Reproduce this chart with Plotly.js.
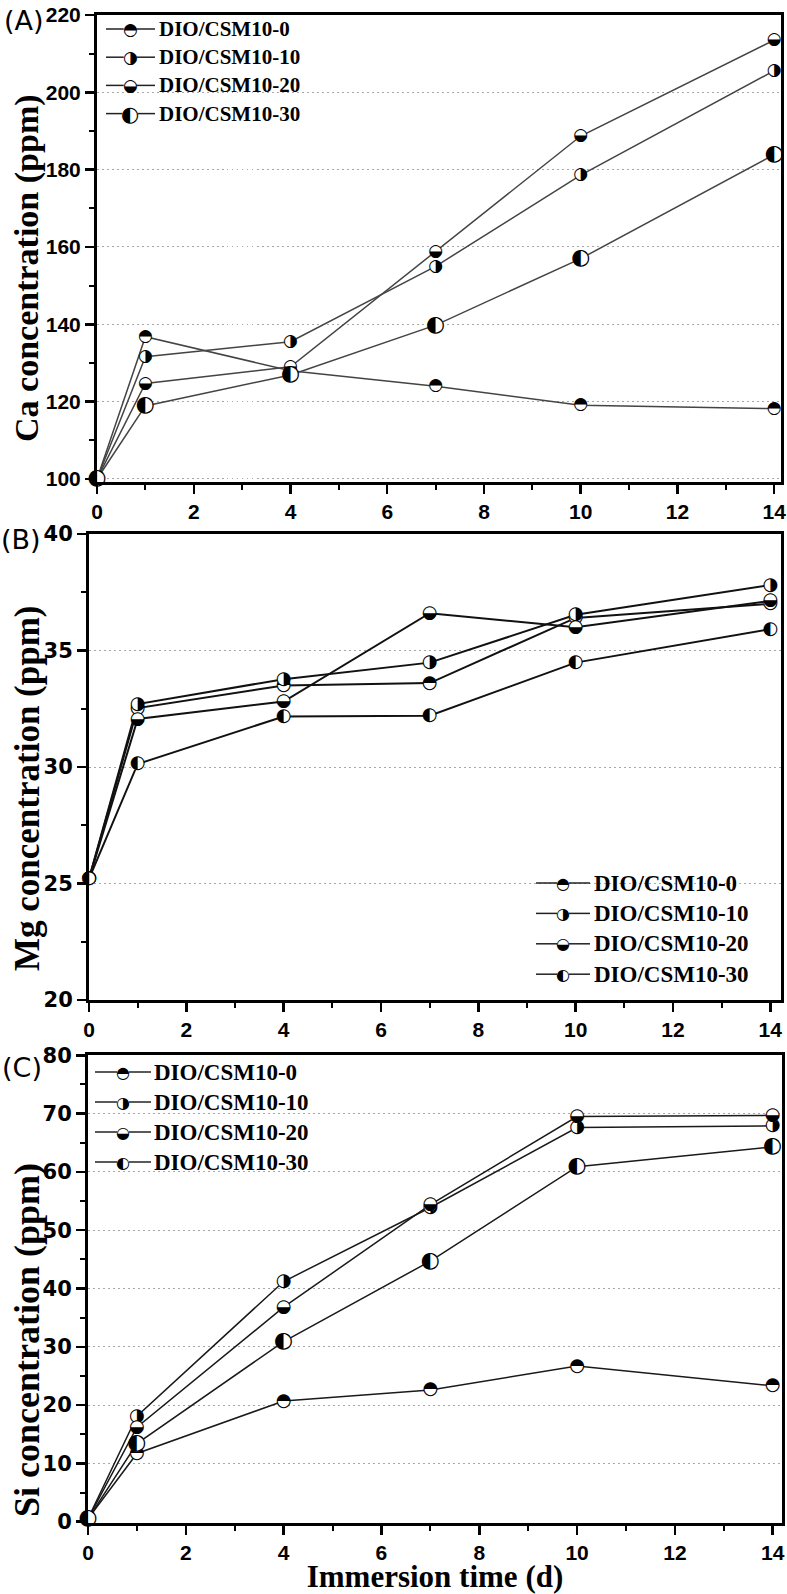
<!DOCTYPE html>
<html><head><meta charset="utf-8">
<script src="https://cdn.plot.ly/plotly-3.0.1.min.js"></script>
<style>html,body{margin:0;padding:0;background:#fff;} #chart{width:787px;height:1594px;}</style>
</head><body><div id="chart"></div>
<script>
// ---------- data ----------
const days = [0, 1, 4, 7, 10, 14];
const seriesNames = ['DIO/CSM10-0', 'DIO/CSM10-10', 'DIO/CSM10-20', 'DIO/CSM10-30'];
const seriesGlyphs = ['\u25D3', '\u25D1', '\u25D2', '\u25D0'];

const ca0  = [100, 136.8, 128.0, 124.0, 119.1, 118.2];
const ca10 = [100, 131.6, 135.5, 155.0, 178.6, 205.6];
const ca20 = [100, 124.7, 129.0, 158.9, 188.7, 213.5];
const ca30 = [100, 118.9, 126.9, 139.8, 157.0, 183.9];

const mg0  = [25.2, 32.53, 33.50, 33.60, 36.40, 37.00];
const mg10 = [25.2, 32.70, 33.77, 34.48, 36.53, 37.81];
const mg20 = [25.2, 32.06, 32.81, 36.60, 36.00, 37.13];
const mg30 = [25.2, 30.13, 32.17, 32.20, 34.48, 35.92];

const si0  = [0.5, 11.7, 20.7, 22.6, 26.7, 23.3];
const si10 = [0.5, 18.1, 41.2, 53.9, 67.6, 67.9];
const si20 = [0.5, 16.2, 36.8, 54.4, 69.5, 69.7];
const si30 = [0.5, 13.4, 30.9, 44.7, 60.9, 64.3];

const panelLabels = ['(A)', '(B)', '(C)'];
const yTitles = ['Ca concentration (ppm)', 'Mg concentration (ppm)', 'Si concentration (ppm)'];
const xTitle = 'Immersion time (d)';

// ---------- layout helpers ----------
const W = 787, H = 1594;
const PX = v => v / W;
const PY = v => 1 - v / H;

const panels = [
  { data: [ca0, ca10, ca20, ca30], xa: 'x', ya: 'y', lineColor: '#444', lineWidth: 1.5,
    glyph: [17, 17, 17, 22], title: { y: 268, size: 34 },
    leg: { lx0: 106, lx1: 155, gx: 130, y0: 29, dy: 28.2, tx: 157, font: 21, glyph: [17, 17, 17, 21] } },
  { data: [mg0, mg10, mg20, mg30], xa: 'x2', ya: 'y2', lineColor: '#111', lineWidth: 2,
    glyph: [18, 18, 18, 18], title: { y: 788, size: 35 },
    leg: { lx0: 536, lx1: 590, gx: 563, y0: 883, dy: 30.4, tx: 592, font: 23, glyph: [16, 16, 16, 16] } },
  { data: [si0, si10, si20, si30], xa: 'x3', ya: 'y3', lineColor: '#1a1a1a', lineWidth: 1.5,
    glyph: [18, 18, 18, 22], title: { y: 1340, size: 36 },
    leg: { lx0: 95, lx1: 151, gx: 123, y0: 1072, dy: 30, tx: 152, font: 23, glyph: [16, 16, 16, 16] } }
];

const traces = [];
// lines first
panels.forEach(p => {
  p.data.forEach((ys, i) => {
    traces.push({
      x: days, y: ys, xaxis: p.xa, yaxis: p.ya, mode: 'lines', name: seriesNames[i],
      line: { color: p.lineColor, width: p.lineWidth }, showlegend: false, hoverinfo: 'skip', cliponaxis: false
    });
  });
});
// markers (white disc + half-filled glyph)
panels.forEach(p => {
  p.data.forEach((ys, i) => {
    const fs = p.glyph[i];
    traces.push({
      x: days, y: ys, xaxis: p.xa, yaxis: p.ya, mode: 'markers+text', name: seriesNames[i],
      text: days.map(() => seriesGlyphs[i]), textposition: 'middle center',
      textfont: { family: 'DejaVu Sans', size: fs, color: '#000' },
      marker: { symbol: 'circle', size: Math.round(fs * 0.72), color: '#fff', line: { width: 0 } },
      showlegend: false, hoverinfo: 'skip', cliponaxis: false
    });
  });
});

const tickFont = (fam, s) => ({ family: fam, size: s, weight: 'bold', color: '#000' });
const baseAxis = {
  showline: true, linecolor: '#000', linewidth: 3, mirror: true,
  ticks: 'outside', ticklen: 9, tickwidth: 2.5, tickcolor: '#000',
  zeroline: false, showgrid: false, fixedrange: true, ticklabeloverflow: 'allow'
};
const xAxis = (dom, rng, anchor) => Object.assign({}, baseAxis, {
  domain: dom, range: rng, anchor: anchor, tick0: 0, dtick: 2,
  tickfont: tickFont('Liberation Sans', 21),
  minor: { dtick: 1, ticks: 'outside', ticklen: 5, tickwidth: 2, tickcolor: '#000', showgrid: false }
});
const yAxis = (dom, rng, anchor, dt, mdt, fam, fs) => Object.assign({}, baseAxis, {
  domain: dom, range: rng, anchor: anchor, tick0: 0, dtick: dt,
  tickfont: tickFont(fam, fs),
  showgrid: true, gridcolor: '#a8a8a8', gridwidth: 1, griddash: '1.5px,3.5px',
  minor: { dtick: mdt, ticks: 'outside', ticklen: 5, tickwidth: 2, tickcolor: '#000', showgrid: false }
});

const layout = {
  width: W, height: H, margin: { l: 0, r: 0, t: 0, b: 0 },
  paper_bgcolor: '#fff', plot_bgcolor: '#fff', showlegend: false,
  xaxis:  xAxis([PX(97), PX(781)], [0, 14.14], 'y'),
  yaxis:  yAxis([PY(482), PY(15)], [99.22, 220], 'x', 20, 10, 'Liberation Sans', 21),
  xaxis2: xAxis([PX(89), PX(781)], [0, 14.22], 'y2'),
  yaxis2: yAxis([PY(1000), PY(534)], [20, 40], 'x2', 5, 2.5, 'DejaVu Sans', 21),
  xaxis3: Object.assign(xAxis([PX(88), PX(782)], [0, 14.19], 'y3'), {
    title: { text: xTitle, font: { family: 'Liberation Serif', size: 31, weight: 'bold', color: '#000' }, standoff: 4 }
  }),
  yaxis3: yAxis([PY(1522.7), PY(1055.3)], [-0.17, 80], 'x3', 10, 5, 'DejaVu Sans', 21),
  annotations: [], shapes: []
};

// y-axis titles (rotated)
panels.forEach((p, i) => {
  layout.annotations.push({
    text: yTitles[i], xref: 'paper', yref: 'paper', x: PX(27), y: PY(p.title.y),
    xanchor: 'center', yanchor: 'middle', textangle: -90, showarrow: false,
    font: { family: 'Liberation Serif', size: p.title.size, weight: 'bold', color: '#000' }
  });
});

// panel labels
const labelPos = [[24, 21], [21, 540], [22, 1067]];
panelLabels.forEach((t, i) => {
  layout.annotations.push({
    text: t, xref: 'paper', yref: 'paper', x: PX(labelPos[i][0]), y: PY(labelPos[i][1]),
    xanchor: 'center', yanchor: 'middle', showarrow: false,
    font: { family: 'DejaVu Sans', size: 27, color: '#000' }
  });
});

// legends
panels.forEach(p => {
  const L = p.leg;
  seriesNames.forEach((name, i) => {
    const y = L.y0 + i * L.dy;
    const r = L.glyph[i] * 0.37;
    layout.shapes.push({ type: 'line', xref: 'paper', yref: 'paper', x0: PX(L.lx0), x1: PX(L.gx - r), y0: PY(y), y1: PY(y), line: { color: '#222', width: 1.5 } });
    layout.shapes.push({ type: 'line', xref: 'paper', yref: 'paper', x0: PX(L.gx + r), x1: PX(L.lx1), y0: PY(y), y1: PY(y), line: { color: '#222', width: 1.5 } });
    layout.annotations.push({
      text: seriesGlyphs[i], xref: 'paper', yref: 'paper', x: PX(L.gx), y: PY(y),
      xanchor: 'center', yanchor: 'middle', showarrow: false,
      font: { family: 'DejaVu Sans', size: L.glyph[i], color: '#000' }
    });
    layout.annotations.push({
      text: name, xref: 'paper', yref: 'paper', x: PX(L.tx), y: PY(y),
      xanchor: 'left', yanchor: 'middle', showarrow: false,
      font: { family: 'Liberation Serif', size: L.font, weight: 'bold', color: '#000' }
    });
  });
});

Plotly.newPlot('chart', traces, layout, { staticPlot: true, displayModeBar: false });
</script>
</body></html>
